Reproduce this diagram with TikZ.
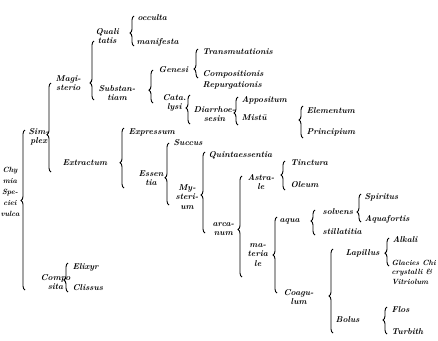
\documentclass[tikz,border=0pt]{standalone}
\usetikzlibrary{decorations.pathreplacing}
\begin{document}
\begin{tikzpicture}[x=1pt, y=-1pt, term/.style={font=\fontsize{8.5}{9.5}\selectfont\bfseries\itshape, inner sep=0.5pt, align=center, anchor=west}, brc/.style={decorate, decoration={brace, amplitude=4pt, aspect=#1}, line width=0.9pt}]
\useasboundingbox (0,0) rectangle (438,340);
         \node[term,anchor=center,font=\fontsize{7.5}{11}\selectfont\bfseries\itshape] (chy) at (10,192) {Chy\\mia\\Spe-\\ciei\\vulca};
         \node[term] (sim) at (28,137) {Sim-\\plex};
         \node[term] (comp) at (40,282) {Compo\\sita};
         \node[term] (elix) at (72,267) {Elixyr};
         \node[term] (clis) at (72,288) {Clissus};
         \node[term] (mag) at (55,83) {Magi-\\sterio};
         \node[term] (extr) at (62,163) {Extractum};
         \node[term] (qual) at (95,36) {Quali\\tatis};
         \node[term] (subst) at (98,93) {Substan-\\tiam};
         \node[term] (occ) at (137,18) {occulta};
         \node[term] (manif) at (136,42) {manifesta};
         \node[term] (gen) at (158,70) {Genesi};
         \node[term] (cata) at (162,103) {Cata.\\lysi};
         \node[term] (trans) at (202,52) {Transmutationis};
         \node[term] (compos) at (202,74) {Compositionis};
         \node[term] (repurg) at (202,85) {Repurgationis};
         \node[term] (diarr) at (193,114) {Diarrhoe-\\sesin};
         \node[term] (appos) at (241,100) {Appositum};
         \node[term] (mist) at (241,118) {Mistū};
         \node[term] (elem) at (306,111) {Elementum};
         \node[term] (princ) at (306,132) {Principium};
         \node[term] (expr) at (128,132) {Expressum};
         \node[term] (ess) at (138,178) {Essen\\tia};
         \node[term] (succ) at (173,143) {Succus};
         \node[term] (myst) at (175,197) {My-\\steri-\\um};
         \node[term] (quint) at (208,155) {Quintaessentia};
         \node[term] (arc) at (212,229) {arca-\\num};
         \node[term] (astr) at (247,182) {Astra-\\le};
         \node[term] (tinct) at (290,163) {Tinctura};
         \node[term] (oleum) at (290,185) {Oleum};
         \node[term] (mat) at (247,255) {ma-\\teria\\le};
         \node[term] (aqua) at (279,221) {aqua};
         \node[term] (solv) at (322,212) {solvens};
         \node[term] (stil) at (322,232) {stillatitia};
         \node[term] (spir) at (364,197) {Spiritus};
         \node[term] (aquaf) at (364,219) {Aquafortis};
         \node[term] (coag) at (283,297) {Coagu-\\lum};
         \node[term] (lap) at (345,253) {Lapillus};
         \node[term] (alk) at (392,240) {Alkali};
         \node[term,align=left,font=\fontsize{7.5}{9.5}\selectfont\bfseries\itshape] (glac) at (391,272) {Glacies Chi\\crystalli \&\\Vitriolum};
         \node[term] (bolus) at (335,320) {Bolus};
         \node[term] (flos) at (391,310) {Flos};
         \node[term] (turb) at (391,332) {Turbith};
         \draw[brc=0.56] ([yshift=-8pt]25,0 |- comp) -- ([yshift=7pt]25,0 |- sim);
         \draw[brc=0.42] ([yshift=-9pt]51,0 |- extr) -- (51,0 |- mag);
         \draw[brc=0.41] ([yshift=-4pt]68,0 |- clis) -- ([yshift=4pt]68,0 |- elix);
         \draw[brc=0.29] ([yshift=-7pt]94,0 |- subst) -- ([yshift=-5pt]94,0 |- qual);
         \draw[brc=0.43] ([yshift=-4pt]134,0 |- manif) -- ([yshift=2pt]134,0 |- occ);
         \draw[brc=0.39] (153,0 |- cata) -- (153,0 |- gen);
         \draw[brc=0.31] ([yshift=-4pt]198,0 |- compos) -- ([yshift=3pt]198,0 |- trans);
         \draw[brc=0.55] ([yshift=-10pt]190,0 |- diarr) -- ([yshift=19pt]190,0 |- diarr);
         \draw[brc=0.43] ([yshift=-7pt]238,0 |- mist) -- ([yshift=3pt]238,0 |- appos);
         \draw[brc=0.56] ([yshift=-6pt]303,0 |- princ) -- ([yshift=5pt]303,0 |- elem);
         \draw[brc=0.42] ([yshift=-10pt]124,0 |- ess) -- ([yshift=4pt]124,0 |- expr);
         \draw[brc=0.44] ([yshift=-8pt]169,0 |- myst) -- (169,0 |- succ);
         \draw[brc=0.47] ([yshift=-4pt]205,0 |- arc) -- ([yshift=3pt]205,0 |- quint);
         \draw[brc=0.47] ([yshift=-22pt]242,0 |- mat) -- ([yshift=6pt]242,0 |- astr);
         \draw[brc=0.52] ([yshift=-5pt]285,0 |- oleum) -- ([yshift=2pt]285,0 |- tinct);
         \draw[brc=0.5] ([yshift=4pt]277,0 |- coag) -- ([yshift=4pt]277,0 |- aqua);
         \draw[brc=0.56] ([yshift=-3pt]315,0 |- stil) -- ([yshift=2pt]315,0 |- solv);
         \draw[brc=0.36] ([yshift=-3pt]361,0 |- aquaf) -- ([yshift=3pt]361,0 |- spir);
         \draw[brc=0.44] ([yshift=-13pt]333,0 |- bolus) -- ([yshift=4pt]333,0 |- lap);
         \draw[brc=0.46] ([yshift=6pt]389,0 |- glac) -- ([yshift=2pt]389,0 |- alk);
         \draw[brc=0.52] ([yshift=-2pt]387,0 |- turb) -- ([yshift=3pt]387,0 |- flos);
\end{tikzpicture}
\end{document}
